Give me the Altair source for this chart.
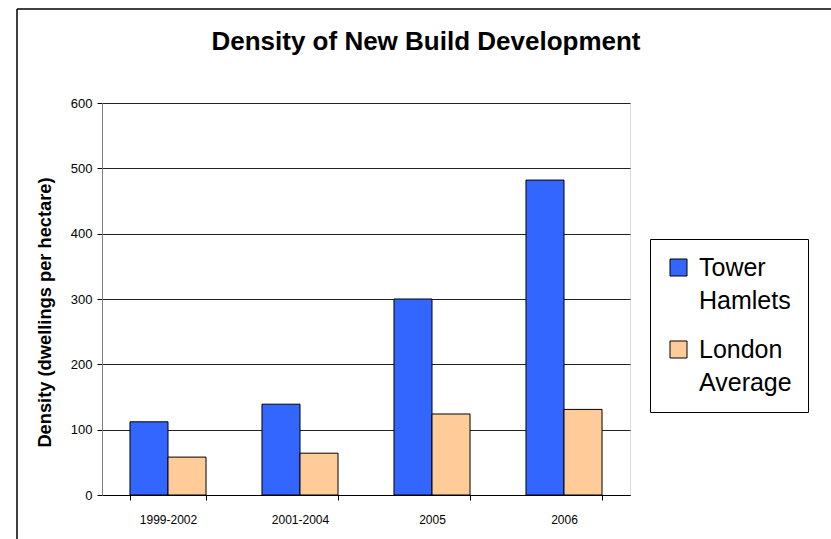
import altair as alt
import pandas as pd

periods = ["1999-2002", "2001-2004", "2005", "2006"]
tower_hamlets = [112, 139, 300, 482]
london_average = [58, 64, 124, 131]
series_names = ["Tower Hamlets", "London Average"]
colors = ["#3366FF", "#FFCC99"]

rows = []
for p, t, l in zip(periods, tower_hamlets, london_average):
    rows.append({"period": p, "series": series_names[0], "value": t})
    rows.append({"period": p, "series": series_names[1], "value": l})
df = pd.DataFrame(rows)

bars = alt.Chart(df).mark_bar(stroke="black", strokeWidth=1).encode(
    x=alt.X("period:N", sort=periods, title=None,
            scale=alt.Scale(paddingInner=0.424, paddingOuter=0.212),
            axis=alt.Axis(labelAngle=0, labelFontSize=12, labelColor="black",
                          labelFont="Liberation Sans", domainColor="black",
                          tickColor="black", tickSize=5, tickBand="extent",
                          labelPadding=14, grid=False)),
    xOffset=alt.XOffset("series:N", sort=series_names,
                        scale=alt.Scale(paddingInner=0, paddingOuter=0)),
    y=alt.Y("value:Q", title="Density (dwellings per hectare)",
            scale=alt.Scale(domain=[0, 600], nice=False),
            axis=alt.Axis(values=[0, 100, 200, 300, 400, 500, 600],
                          labelFontSize=13, labelColor="black",
                          labelFont="Liberation Sans",
                          titleFont="Liberation Sans", titleFontSize=18.3,
                          titleFontWeight="bold", titleColor="black",
                          titlePadding=16, titleY=209,
                          domainColor="#808080", tickColor="black",
                          tickSize=5, labelPadding=5,
                          grid=True, gridColor="#222222", gridWidth=1)),
    color=alt.Color("series:N", sort=series_names,
                    scale=alt.Scale(domain=series_names, range=colors),
                    legend=alt.Legend(title=None, orient="none",
                                      legendX=548, legendY=136,
                                      strokeColor="black", padding=16,
                                      symbolType="square", symbolSize=289,
                                      symbolStrokeColor="black",
                                      symbolStrokeWidth=1,
                                      labelFontSize=25,
                                      labelFont="Liberation Sans",
                                      labelColor="black",
                                      labelExpr="split(datum.label, ' ')",
                                      labelLimit=200,
                                      rowPadding=23, labelOffset=8)),
)

frame_df = pd.DataFrame({"k": [0]})
left_line = alt.Chart(frame_df).mark_rule(color="black", strokeWidth=1.5).encode(
    x=alt.value(-85), y=alt.value(-94), y2=alt.value(450))
top_line = alt.Chart(frame_df).mark_rule(color="black", strokeWidth=1.5).encode(
    y=alt.value(-94), x=alt.value(-85), x2=alt.value(740))

chart = alt.layer(bars, left_line, top_line).properties(
    width=528, height=392,
    title=alt.TitleParams("Density of New Build Development", fontSize=26,
                          font="Liberation Sans", fontWeight="bold",
                          color="black", anchor="middle", dx=60, offset=-47),
    autosize=alt.AutoSizeParams(type="none"),
    padding={"left": 102, "top": 103, "right": 201, "bottom": 44},
).configure_view(stroke=None).configure(
    background="white",
    style={"guide-label": {"lineHeight": 33}},
)

chart.save("out.html", embed_options={"renderer": "svg", "actions": False})
